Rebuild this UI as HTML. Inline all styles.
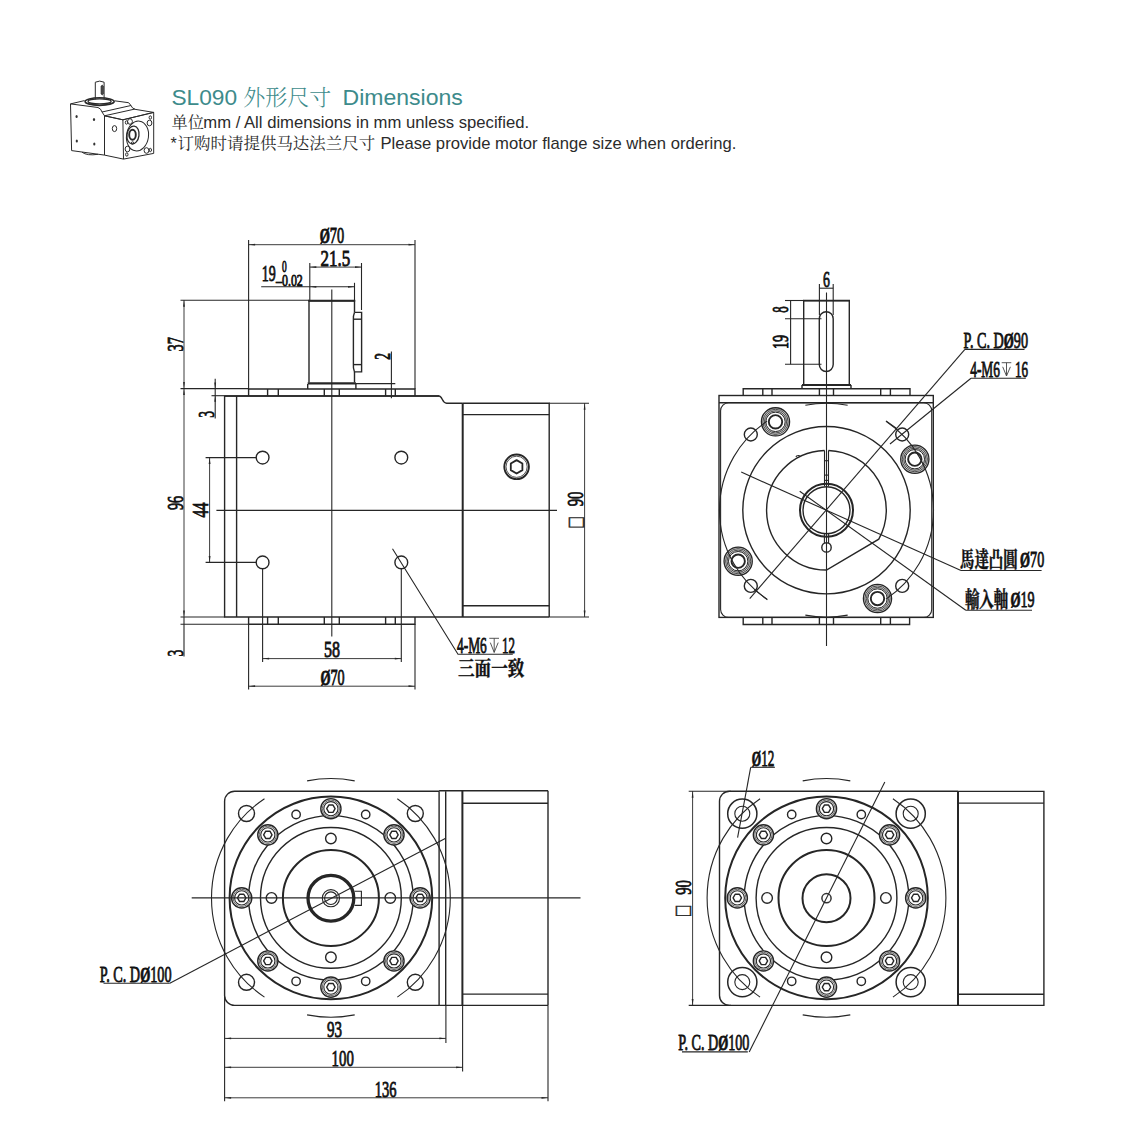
<!DOCTYPE html>
<html lang="zh"><head><meta charset="utf-8"><title>SL090 外形尺寸 Dimensions</title>
<style>
html,body{margin:0;padding:0;background:#fff}
body{width:1141px;height:1129px;position:relative;overflow:hidden;font-family:"Liberation Sans","Noto Serif CJK SC",sans-serif}
svg .h1 text{font-family:"Liberation Sans","Noto Serif CJK SC",sans-serif;fill:#3d8b8b}
svg .h1 text.cj{font-family:"Noto Serif CJK SC","Liberation Serif",serif;font-weight:300}
svg .h2 text{font-family:"Liberation Sans","Noto Serif CJK SC",sans-serif;fill:#2b2b2b}
svg .h2 text.cj{font-family:"Noto Serif CJK SC","Liberation Serif",serif;font-weight:400}
svg{position:absolute;left:0;top:0}
svg text.d{font-family:"Liberation Serif",serif;fill:#111;stroke:#111;stroke-width:0.85px}
svg text.sq{font-family:"Liberation Serif","DejaVu Sans",serif;fill:#222;stroke:#222;stroke-width:0.5px}
svg text.c{font-family:"Noto Serif CJK TC","Noto Serif CJK SC","Liberation Serif",serif;fill:#111;stroke:#111;stroke-width:0.45px}
</style></head>
<body>
<svg width="1141" height="1129" viewBox="0 0 1141 1129">
<g fill="none" stroke="#2a2a2a" stroke-width="1" stroke-linejoin="round">
<path d="M95.3 99.5V82.2Q99.7 80 104.1 82.2V99.5"/>
<path d="M101.2 86Q102.6 84.6 103.2 86V94Q102.4 95.6 101.2 94Z" fill="#555"/>
<ellipse cx="99.6" cy="101.6" rx="14.6" ry="3.8" stroke-width="1.5"/>
<ellipse cx="99.6" cy="101.4" rx="11.6" ry="2.5" stroke-width="1.2"/>
<path d="M85 102.5Q99.6 108 114.2 102.5"/>
<path d="M70.5 103.9L84.5 100.6M114.5 100.8L128.6 102.7L131 105.5Q132 108.5 135 109.2"/>
<path d="M70.5 103.9L71.6 150.6L104.5 155.1V115.8"/>
<path d="M70.5 103.9L98 107.5Q101 108.5 102 112L104.5 115.8"/>
<path d="M102 112L131 105.5"/>
<path d="M104.5 115.8L134.3 109.2L153.7 112.4L122.9 119.8Z"/>
<path d="M104.5 115.8L122.9 119.8L123.5 159.1L104.5 155.1"/>
<path d="M122.9 119.8L153.7 112.4V153.4L123.5 159.1"/>
<path d="M82 152.2Q87 156 98 154.3"/>
<ellipse cx="114.5" cy="128.6" rx="2.2" ry="3"/>
<ellipse cx="137.5" cy="136" rx="11" ry="15" transform="rotate(8 137.5 136)"/>
<ellipse cx="133" cy="135" rx="6" ry="9" transform="rotate(8 133 135)" stroke-width="1.3"/>
<ellipse cx="132.5" cy="134.8" rx="3.3" ry="5" stroke-width="1.9"/>
<circle cx="132.6" cy="143" r="1.2"/>
<ellipse cx="130" cy="121.5" rx="2.4" ry="2.8"/><ellipse cx="149.5" cy="123" rx="2.4" ry="2.8"/>
<ellipse cx="127.5" cy="149" rx="2.4" ry="2.8"/><ellipse cx="146.5" cy="150.5" rx="2.4" ry="2.8"/>
<ellipse cx="126.5" cy="122.5" rx="1.2" ry="1.7"/><ellipse cx="150.3" cy="117.5" rx="1.2" ry="1.7"/>
<ellipse cx="126.8" cy="154.5" rx="1.2" ry="1.7"/><ellipse cx="150.3" cy="150" rx="1.2" ry="1.7"/>
</g>
<g fill="#333"><ellipse cx="76.6" cy="116.5" rx="1.1" ry="1.5"/><ellipse cx="94" cy="119.6" rx="1.1" ry="1.5"/><ellipse cx="76.8" cy="141" rx="1.1" ry="1.5"/><ellipse cx="94.3" cy="144" rx="1.1" ry="1.5"/></g>
<g class="h1">
<text x="171.4" y="104.6" font-size="21.6" textLength="65.7" lengthAdjust="spacingAndGlyphs">SL090</text>
<text class="cj" x="243.2" y="104.8" font-size="22" textLength="88" lengthAdjust="spacingAndGlyphs">外形尺寸</text>
<text x="342.5" y="104.6" font-size="21.6" textLength="120.3" lengthAdjust="spacingAndGlyphs">Dimensions</text>
</g>
<g class="h2">
<text class="cj" x="171.6" y="127.5" font-size="16.2" textLength="32.4" lengthAdjust="spacingAndGlyphs">单位</text>
<text x="203.3" y="127.7" font-size="16.1" textLength="325.8" lengthAdjust="spacingAndGlyphs">mm / All dimensions in mm unless specified.</text>
<text x="170.4" y="149.2" font-size="16.1">*</text>
<text class="cj" x="177.6" y="149" font-size="16.4" textLength="197.6" lengthAdjust="spacingAndGlyphs">订购时请提供马达法兰尺寸</text>
<text x="380.4" y="149.2" font-size="16.1" textLength="356" lengthAdjust="spacingAndGlyphs">Please provide motor flange size when ordering.</text>
</g>
<path d="M439 396H224.6V617H549.2" fill="none" stroke="#262626" stroke-width="1.4" />
<line x1="236.6" y1="396" x2="236.6" y2="617" stroke="#262626" stroke-width="1.4"/>
<path d="M439 396C442.5 396 442 403.2 446.6 403.2H462.7" fill="none" stroke="#262626" stroke-width="1.4" />
<line x1="462.7" y1="403.2" x2="462.7" y2="617" stroke="#262626" stroke-width="2.0"/>
<path d="M462.7 403.2H549.2V617" fill="none" stroke="#262626" stroke-width="1.4" />
<line x1="462.7" y1="414.6" x2="549.2" y2="414.6" stroke="#262626" stroke-width="1.4"/>
<line x1="462.7" y1="605.8" x2="549.2" y2="605.8" stroke="#262626" stroke-width="1.4"/>
<path d="M248.6 396V389H415V396" fill="none" stroke="#262626" stroke-width="1.4" />
<line x1="224.6" y1="396" x2="439" y2="396" stroke="#262626" stroke-width="1.4"/>
<path d="M248.6 617V624.3H415V617" fill="none" stroke="#262626" stroke-width="1.4" />
<line x1="267.6" y1="389" x2="267.6" y2="396" stroke="#262626" stroke-width="1.4"/>
<line x1="278.3" y1="389" x2="278.3" y2="396" stroke="#262626" stroke-width="1.4"/>
<line x1="324.3" y1="389" x2="324.3" y2="396" stroke="#262626" stroke-width="1.4"/>
<line x1="339.3" y1="389" x2="339.3" y2="396" stroke="#262626" stroke-width="1.4"/>
<line x1="385.6" y1="389" x2="385.6" y2="396" stroke="#262626" stroke-width="1.4"/>
<line x1="395.3" y1="389" x2="395.3" y2="396" stroke="#262626" stroke-width="1.4"/>
<line x1="267.6" y1="617" x2="267.6" y2="624.3" stroke="#262626" stroke-width="1.4"/>
<line x1="278.3" y1="617" x2="278.3" y2="624.3" stroke="#262626" stroke-width="1.4"/>
<line x1="324.3" y1="617" x2="324.3" y2="624.3" stroke="#262626" stroke-width="1.4"/>
<line x1="339.3" y1="617" x2="339.3" y2="624.3" stroke="#262626" stroke-width="1.4"/>
<line x1="385.6" y1="617" x2="385.6" y2="624.3" stroke="#262626" stroke-width="1.4"/>
<line x1="395.3" y1="617" x2="395.3" y2="624.3" stroke="#262626" stroke-width="1.4"/>
<path d="M309 382.6V300.7H354.5V312.4M354.5 371.9V382.6" fill="none" stroke="#262626" stroke-width="1.4" />
<line x1="308.3" y1="300.7" x2="355.2" y2="300.7" stroke="#262626" stroke-width="1.9"/>
<line x1="307.7" y1="383.4" x2="355.9" y2="383.4" stroke="#262626" stroke-width="2.2"/>
<path d="M307.7 384V389M355.9 384V389" fill="none" stroke="#262626" stroke-width="1.4" />
<path d="M354.5 312.4H361.6V371.9H354.5" fill="none" stroke="#262626" stroke-width="1.4" />
<path d="M354.5 312.4Q353 316 353.4 319.2V364.6Q353 368 354.5 371.9" fill="none" stroke="#262626" stroke-width="1.4" />
<line x1="353.4" y1="319.2" x2="361.6" y2="319.2" stroke="#262626" stroke-width="1.4"/>
<line x1="353.4" y1="364.6" x2="361.6" y2="364.6" stroke="#262626" stroke-width="1.4"/>
<line x1="331.8" y1="289.4" x2="331.8" y2="636.5" stroke="#262626" stroke-width="1.1"/>
<line x1="216.4" y1="510.4" x2="557" y2="510.4" stroke="#262626" stroke-width="1.1"/>
<circle cx="262.6" cy="457.6" r="6.4" fill="none" stroke="#262626" stroke-width="1.4" />
<circle cx="262.6" cy="562.4" r="6.4" fill="none" stroke="#262626" stroke-width="1.4" />
<circle cx="401.3" cy="457.6" r="6.4" fill="none" stroke="#262626" stroke-width="1.4" />
<circle cx="401.3" cy="562.4" r="6.4" fill="none" stroke="#262626" stroke-width="1.4" />
<circle cx="516.6" cy="466.8" r="12.3" fill="none" stroke="#262626" stroke-width="1.9" />
<circle cx="516.6" cy="466.8" r="10.6" fill="none" stroke="#262626" stroke-width="0.8" />
<polygon points="522.4,470.15 516.6,473.5 510.8,470.15 510.8,463.45 516.6,460.1 522.4,463.45" fill="none" stroke="#262626" stroke-width="1.8" stroke-linejoin="round"/>
<line x1="248.6" y1="240" x2="248.6" y2="389" stroke="#262626" stroke-width="1.1"/>
<line x1="415" y1="240" x2="415" y2="389" stroke="#262626" stroke-width="1.1"/>
<line x1="248.6" y1="244.7" x2="415" y2="244.7" stroke="#262626" stroke-width="0.9"/>
<polygon points="248.6,244.7 255.1,243.8 255.1,245.6" fill="#262626"/>
<polygon points="415,244.7 408.5,245.6 408.5,243.8" fill="#262626"/>
<text class="d" x="319.7" y="243.3" font-size="22.5" font-weight="normal" text-anchor="start" textLength="24.5" lengthAdjust="spacingAndGlyphs"><tspan font-weight="bold" font-size="20.5">Ø</tspan>70</text>
<line x1="309.8" y1="263" x2="309.8" y2="300" stroke="#262626" stroke-width="1.1"/>
<line x1="361.5" y1="263" x2="361.5" y2="310" stroke="#262626" stroke-width="1.1"/>
<line x1="309.8" y1="267.1" x2="361.5" y2="267.1" stroke="#262626" stroke-width="0.9"/>
<polygon points="309.8,267.1 316.3,266.2 316.3,268" fill="#262626"/>
<polygon points="361.5,267.1 355,268 355,266.2" fill="#262626"/>
<text class="d" x="320.5" y="265.6" font-size="22.5" font-weight="normal" text-anchor="start" textLength="29.7" lengthAdjust="spacingAndGlyphs">21.5</text>
<line x1="354.5" y1="282.8" x2="354.5" y2="300" stroke="#262626" stroke-width="1.1"/>
<line x1="261.2" y1="286.8" x2="354.5" y2="286.8" stroke="#262626" stroke-width="1.1"/>
<polygon points="309.8,286.8 316.3,285.9 316.3,287.7" fill="#262626"/>
<polygon points="354.5,286.8 348,287.7 348,285.9" fill="#262626"/>
<text class="d" x="261.8" y="281" font-size="22.5" font-weight="normal" text-anchor="start" textLength="14" lengthAdjust="spacingAndGlyphs">19</text>
<text class="d" x="282.1" y="271.8" font-size="16" font-weight="normal" text-anchor="start" textLength="4.7" lengthAdjust="spacingAndGlyphs">0</text>
<text class="d" x="276" y="285.8" font-size="16" font-weight="normal" text-anchor="start" textLength="26.8" lengthAdjust="spacingAndGlyphs">–0.02</text>
<line x1="180.5" y1="300.2" x2="309" y2="300.2" stroke="#262626" stroke-width="1.1"/>
<line x1="180.5" y1="388.6" x2="248.6" y2="388.6" stroke="#262626" stroke-width="1.1"/>
<line x1="184" y1="300.2" x2="184" y2="388.6" stroke="#262626" stroke-width="0.9"/>
<polygon points="184,300.2 184.9,306.7 183.1,306.7" fill="#262626"/>
<polygon points="184,388.6 183.1,382.1 184.9,382.1" fill="#262626"/>
<text class="d" x="183" y="351.4" font-size="22.5" font-weight="normal" text-anchor="start" textLength="14.3" lengthAdjust="spacingAndGlyphs" transform="rotate(-90 183 351.4)">37</text>
<line x1="215.2" y1="378.7" x2="215.2" y2="418.4" stroke="#262626" stroke-width="1.1"/>
<line x1="211.5" y1="395.7" x2="224.6" y2="395.7" stroke="#262626" stroke-width="1.1"/>
<polygon points="215.2,388.6 214.3,382.6 216.1,382.6" fill="#262626"/>
<polygon points="215.2,395.7 216.1,401.7 214.3,401.7" fill="#262626"/>
<text class="d" x="214" y="417.8" font-size="22.5" font-weight="normal" text-anchor="start" textLength="6.8" lengthAdjust="spacingAndGlyphs" transform="rotate(-90 214 417.8)">3</text>
<line x1="391.4" y1="351.4" x2="391.4" y2="398.2" stroke="#262626" stroke-width="1.1"/>
<line x1="355.3" y1="383.6" x2="395.3" y2="383.6" stroke="#262626" stroke-width="1.1"/>
<text class="d" x="390.4" y="359.7" font-size="22.5" font-weight="normal" text-anchor="start" textLength="6.8" lengthAdjust="spacingAndGlyphs" transform="rotate(-90 390.4 359.7)">2</text>
<line x1="184" y1="388.6" x2="184" y2="617" stroke="#262626" stroke-width="0.9"/>
<polygon points="184,388.6 184.9,395.1 183.1,395.1" fill="#262626"/>
<polygon points="184,617 183.1,610.5 184.9,610.5" fill="#262626"/>
<line x1="184" y1="617" x2="184" y2="656.4" stroke="#262626" stroke-width="1.1"/>
<line x1="180.5" y1="617" x2="224.6" y2="617" stroke="#262626" stroke-width="1.1"/>
<line x1="180.5" y1="624.3" x2="248.6" y2="624.3" stroke="#262626" stroke-width="1.1"/>
<text class="d" x="182.9" y="510" font-size="22.5" font-weight="normal" text-anchor="start" textLength="14.2" lengthAdjust="spacingAndGlyphs" transform="rotate(-90 182.9 510)">96</text>
<text class="d" x="183" y="656.4" font-size="22.5" font-weight="normal" text-anchor="start" textLength="6.8" lengthAdjust="spacingAndGlyphs" transform="rotate(-90 183 656.4)">3</text>
<line x1="205.6" y1="457.6" x2="256" y2="457.6" stroke="#262626" stroke-width="1.1"/>
<line x1="205.6" y1="562.4" x2="256" y2="562.4" stroke="#262626" stroke-width="1.1"/>
<line x1="209.6" y1="457.6" x2="209.6" y2="562.4" stroke="#262626" stroke-width="0.9"/>
<polygon points="209.6,457.6 210.5,464.1 208.7,464.1" fill="#262626"/>
<polygon points="209.6,562.4 208.7,555.9 210.5,555.9" fill="#262626"/>
<text class="d" x="208.3" y="517.5" font-size="22.5" font-weight="normal" text-anchor="start" textLength="14.9" lengthAdjust="spacingAndGlyphs" transform="rotate(-90 208.3 517.5)">44</text>
<line x1="262.6" y1="569" x2="262.6" y2="662" stroke="#262626" stroke-width="1.1"/>
<line x1="401.3" y1="569" x2="401.3" y2="662" stroke="#262626" stroke-width="1.1"/>
<line x1="262.6" y1="658.6" x2="401.3" y2="658.6" stroke="#262626" stroke-width="0.9"/>
<polygon points="262.6,658.6 269.1,657.7 269.1,659.5" fill="#262626"/>
<polygon points="401.3,658.6 394.8,659.5 394.8,657.7" fill="#262626"/>
<text class="d" x="324" y="656.9" font-size="22.5" font-weight="normal" text-anchor="start" textLength="16" lengthAdjust="spacingAndGlyphs">58</text>
<line x1="248.6" y1="624.3" x2="248.6" y2="689.5" stroke="#262626" stroke-width="1.1"/>
<line x1="415" y1="624.3" x2="415" y2="689.5" stroke="#262626" stroke-width="1.1"/>
<line x1="248.6" y1="686.2" x2="415" y2="686.2" stroke="#262626" stroke-width="0.9"/>
<polygon points="248.6,686.2 255.1,685.3 255.1,687.1" fill="#262626"/>
<polygon points="415,686.2 408.5,687.1 408.5,685.3" fill="#262626"/>
<text class="d" x="320.4" y="685" font-size="22.5" font-weight="normal" text-anchor="start" textLength="24.2" lengthAdjust="spacingAndGlyphs"><tspan font-weight="bold" font-size="20.5">Ø</tspan>70</text>
<line x1="549.2" y1="403.2" x2="589" y2="403.2" stroke="#262626" stroke-width="1.1"/>
<line x1="549.2" y1="617" x2="589" y2="617" stroke="#262626" stroke-width="1.1"/>
<line x1="584.6" y1="403.2" x2="584.6" y2="617" stroke="#262626" stroke-width="0.9"/>
<polygon points="584.6,403.2 585.5,409.7 583.7,409.7" fill="#262626"/>
<polygon points="584.6,617 583.7,610.5 585.5,610.5" fill="#262626"/>
<text class="d" x="583.3" y="506.3" font-size="22.5" font-weight="normal" text-anchor="start" textLength="14.8" lengthAdjust="spacingAndGlyphs" transform="rotate(-90 583.3 506.3)">90</text>
<text class="sq" transform="translate(583.6 527.6) rotate(-90) scale(0.66 1)" font-size="25.6">□</text>
<path d="M392.5 548.7L458 654.3H512.8" fill="none" stroke="#262626" stroke-width="1.1" />
<text class="d" x="457" y="652.8" font-size="22.5" font-weight="normal" text-anchor="start" textLength="29.8" lengthAdjust="spacingAndGlyphs">4-M6</text>
<path d="M489.3 638.3H499M494.2 638.3V652.4M490.3 642.6L494.2 652.4L498.2 642.6" fill="none" stroke="#444" stroke-width="0.9" />
<text class="d" x="501.9" y="652.8" font-size="22.5" font-weight="normal" text-anchor="start" textLength="13" lengthAdjust="spacingAndGlyphs">12</text>
<text class="c" x="458" y="676" font-size="20.8" font-weight="bold" text-anchor="start" textLength="66.3" lengthAdjust="spacingAndGlyphs">三面一致</text>
<rect x="719" y="395.5" width="214.3" height="221.9" rx="0" fill="none" stroke="#262626" stroke-width="1.4"/>
<line x1="719" y1="402.7" x2="933.3" y2="402.7" stroke="#262626" stroke-width="1.4"/>
<rect x="720.6" y="402.7" width="211.1" height="214.7" rx="8" fill="none" stroke="#262626" stroke-width="1.1"/>
<path d="M743.2 395.5V388.7H910V395.5" fill="none" stroke="#262626" stroke-width="1.4" />
<path d="M743.2 617.4V624.5H909.6V617.4" fill="none" stroke="#262626" stroke-width="1.4" />
<line x1="762.8" y1="388.7" x2="762.8" y2="395.5" stroke="#262626" stroke-width="1.4"/>
<line x1="762.8" y1="617.4" x2="762.8" y2="624.5" stroke="#262626" stroke-width="1.4"/>
<line x1="772" y1="388.7" x2="772" y2="395.5" stroke="#262626" stroke-width="1.4"/>
<line x1="772" y1="617.4" x2="772" y2="624.5" stroke="#262626" stroke-width="1.4"/>
<line x1="819.4" y1="388.7" x2="819.4" y2="395.5" stroke="#262626" stroke-width="1.4"/>
<line x1="819.4" y1="617.4" x2="819.4" y2="624.5" stroke="#262626" stroke-width="1.4"/>
<line x1="833.5" y1="388.7" x2="833.5" y2="395.5" stroke="#262626" stroke-width="1.4"/>
<line x1="833.5" y1="617.4" x2="833.5" y2="624.5" stroke="#262626" stroke-width="1.4"/>
<line x1="880.7" y1="388.7" x2="880.7" y2="395.5" stroke="#262626" stroke-width="1.4"/>
<line x1="880.7" y1="617.4" x2="880.7" y2="624.5" stroke="#262626" stroke-width="1.4"/>
<line x1="890.4" y1="388.7" x2="890.4" y2="395.5" stroke="#262626" stroke-width="1.4"/>
<line x1="890.4" y1="617.4" x2="890.4" y2="624.5" stroke="#262626" stroke-width="1.4"/>
<path d="M803.7 384V300.6H849.3V384" fill="none" stroke="#262626" stroke-width="1.4" />
<line x1="803" y1="300.6" x2="850" y2="300.6" stroke="#262626" stroke-width="1.9"/>
<line x1="802" y1="385" x2="851" y2="385" stroke="#262626" stroke-width="2.2"/>
<path d="M802 385V389M851 385V389" fill="none" stroke="#262626" stroke-width="1.4" />
<rect x="819.3" y="311.8" width="13.9" height="59.7" rx="6.9" fill="none" stroke="#262626" stroke-width="1.4"/>
<line x1="826.5" y1="292.4" x2="826.5" y2="646" stroke="#262626" stroke-width="1.1"/>
<circle cx="826.5" cy="510.2" r="83.7" fill="none" stroke="#262626" stroke-width="1.4" />
<path d="M828.5 450.43A59.8 59.8 0 0 1 878.8 539.19L826.5 570A59.8 59.8 0 0 1 824.5 450.43" fill="none" stroke="#262626" stroke-width="1.4" />
<line x1="824.5" y1="450.43" x2="824.5" y2="486.2" stroke="#262626" stroke-width="1.1"/>
<line x1="828.5" y1="450.43" x2="828.5" y2="486.2" stroke="#262626" stroke-width="1.1"/>
<line x1="824.5" y1="460.7" x2="828.5" y2="460.7" stroke="#262626" stroke-width="1.1"/>
<line x1="824.5" y1="475.1" x2="828.5" y2="475.1" stroke="#262626" stroke-width="1.1"/>
<line x1="824.5" y1="480.4" x2="828.5" y2="480.4" stroke="#262626" stroke-width="1.1"/>
<path d="M795.9 457.2q0.3 -2 3.8 -1.6" fill="none" stroke="#262626" stroke-width="1.1" />
<circle cx="826.5" cy="510.2" r="26.5" fill="none" stroke="#262626" stroke-width="2.0" />
<circle cx="826.5" cy="510.2" r="23.5" fill="none" stroke="#262626" stroke-width="1.4" />
<line x1="824.4" y1="533.7" x2="824.4" y2="543" stroke="#262626" stroke-width="1.1"/>
<line x1="828.6" y1="533.7" x2="828.6" y2="543" stroke="#262626" stroke-width="1.1"/>
<circle cx="826.5" cy="547.4" r="4.7" fill="none" stroke="#262626" stroke-width="1.4" />
<circle cx="775.5" cy="421.87" r="12" fill="#fff" stroke="#d8d8d8" stroke-width="5" />
<circle cx="775.5" cy="421.87" r="14.1" fill="none" stroke="#262626" stroke-width="1.3" />
<circle cx="775.5" cy="421.87" r="12.6" fill="none" stroke="#262626" stroke-width="0.8" />
<circle cx="775.5" cy="421.87" r="11.1" fill="none" stroke="#262626" stroke-width="0.8" />
<circle cx="775.5" cy="421.87" r="9.7" fill="none" stroke="#262626" stroke-width="1.0" />
<circle cx="775.5" cy="421.87" r="6.7" fill="none" stroke="#262626" stroke-width="1.9" />
<circle cx="914.83" cy="459.2" r="12" fill="#fff" stroke="#d8d8d8" stroke-width="5" />
<circle cx="914.83" cy="459.2" r="14.1" fill="none" stroke="#262626" stroke-width="1.3" />
<circle cx="914.83" cy="459.2" r="12.6" fill="none" stroke="#262626" stroke-width="0.8" />
<circle cx="914.83" cy="459.2" r="11.1" fill="none" stroke="#262626" stroke-width="0.8" />
<circle cx="914.83" cy="459.2" r="9.7" fill="none" stroke="#262626" stroke-width="1.0" />
<circle cx="914.83" cy="459.2" r="6.7" fill="none" stroke="#262626" stroke-width="1.9" />
<circle cx="877.5" cy="598.53" r="12" fill="#fff" stroke="#d8d8d8" stroke-width="5" />
<circle cx="877.5" cy="598.53" r="14.1" fill="none" stroke="#262626" stroke-width="1.3" />
<circle cx="877.5" cy="598.53" r="12.6" fill="none" stroke="#262626" stroke-width="0.8" />
<circle cx="877.5" cy="598.53" r="11.1" fill="none" stroke="#262626" stroke-width="0.8" />
<circle cx="877.5" cy="598.53" r="9.7" fill="none" stroke="#262626" stroke-width="1.0" />
<circle cx="877.5" cy="598.53" r="6.7" fill="none" stroke="#262626" stroke-width="1.9" />
<circle cx="738.17" cy="561.2" r="12" fill="#fff" stroke="#d8d8d8" stroke-width="5" />
<circle cx="738.17" cy="561.2" r="14.1" fill="none" stroke="#262626" stroke-width="1.3" />
<circle cx="738.17" cy="561.2" r="12.6" fill="none" stroke="#262626" stroke-width="0.8" />
<circle cx="738.17" cy="561.2" r="11.1" fill="none" stroke="#262626" stroke-width="0.8" />
<circle cx="738.17" cy="561.2" r="9.7" fill="none" stroke="#262626" stroke-width="1.0" />
<circle cx="738.17" cy="561.2" r="6.7" fill="none" stroke="#262626" stroke-width="1.9" />
<path d="M805.35 405.31A107 107 0 0 1 847.65 405.31" fill="none" stroke="#262626" stroke-width="1.1" />
<path d="M847.65 615.09A107 107 0 0 1 805.35 615.09" fill="none" stroke="#262626" stroke-width="1.1" />
<path d="M886.02 421.28A107 107 0 0 1 886.02 599.12" fill="none" stroke="#262626" stroke-width="1.1" />
<path d="M766.98 599.12A107 107 0 0 1 766.98 421.28" fill="none" stroke="#262626" stroke-width="1.1" />
<circle cx="750.8" cy="434.5" r="6.5" fill="none" stroke="#262626" stroke-width="1.4" />
<circle cx="750.8" cy="585.9" r="6.5" fill="none" stroke="#262626" stroke-width="1.4" />
<circle cx="902.2" cy="434.5" r="6.5" fill="none" stroke="#262626" stroke-width="1.4" />
<circle cx="902.2" cy="585.9" r="6.5" fill="none" stroke="#262626" stroke-width="1.4" />
<line x1="964.9" y1="349.4" x2="749.7" y2="598.7" stroke="#262626" stroke-width="1.1"/>
<line x1="964.9" y1="349.4" x2="1024.5" y2="349.4" stroke="#262626" stroke-width="1.1"/>
<line x1="886" y1="420.9" x2="897" y2="428.8" stroke="#262626" stroke-width="1.1"/>
<line x1="754.3" y1="589.6" x2="767.4" y2="599.7" stroke="#262626" stroke-width="1.1"/>
<text class="d" x="963.6" y="347.6" font-size="22.5" font-weight="normal" text-anchor="start" textLength="64.4" lengthAdjust="spacingAndGlyphs">P.<tspan dx="5.6">C.</tspan><tspan dx="5.6">D<tspan font-weight="bold" font-size="20.5">Ø</tspan>90</tspan></text>
<line x1="971" y1="378.3" x2="890" y2="444" stroke="#262626" stroke-width="1.1"/>
<line x1="971" y1="378.3" x2="1025.8" y2="378.3" stroke="#262626" stroke-width="1.1"/>
<text class="d" x="970.2" y="376.5" font-size="22.5" font-weight="normal" text-anchor="start" textLength="29.8" lengthAdjust="spacingAndGlyphs">4-M6</text>
<path d="M1001.7 362.7H1011.3M1006.5 362.7V376M1002.7 366.8L1006.5 376L1010.4 366.8" fill="none" stroke="#444" stroke-width="0.9" />
<text class="d" x="1014.9" y="376.5" font-size="22.5" font-weight="normal" text-anchor="start" textLength="13.1" lengthAdjust="spacingAndGlyphs">16</text>
<line x1="741.2" y1="472.1" x2="961" y2="570.5" stroke="#262626" stroke-width="1.1"/>
<line x1="961" y1="570.5" x2="1041.6" y2="570.5" stroke="#262626" stroke-width="1.1"/>
<text class="c" x="960.1" y="567.2" font-size="21.2" font-weight="bold" text-anchor="start" textLength="57.4" lengthAdjust="spacingAndGlyphs">馬達凸圓</text>
<text class="d" x="1020.1" y="566.7" font-size="22.5" font-weight="normal" text-anchor="start" textLength="24.1" lengthAdjust="spacingAndGlyphs"><tspan font-weight="bold" font-size="20.5">Ø</tspan>70</text>
<line x1="799.7" y1="491.2" x2="965.8" y2="610.3" stroke="#262626" stroke-width="1.1"/>
<line x1="965.8" y1="610.3" x2="1032" y2="610.3" stroke="#262626" stroke-width="1.1"/>
<text class="c" x="964.9" y="607.1" font-size="21.2" font-weight="bold" text-anchor="start" textLength="43.4" lengthAdjust="spacingAndGlyphs">輸入軸</text>
<text class="d" x="1010.5" y="607" font-size="22.5" font-weight="normal" text-anchor="start" textLength="24.1" lengthAdjust="spacingAndGlyphs"><tspan font-weight="bold" font-size="20.5">Ø</tspan>19</text>
<line x1="819.4" y1="284" x2="819.4" y2="315" stroke="#262626" stroke-width="1.1"/>
<line x1="833.2" y1="284" x2="833.2" y2="315" stroke="#262626" stroke-width="1.1"/>
<line x1="819.4" y1="288.2" x2="833.2" y2="288.2" stroke="#262626" stroke-width="1.1"/>
<text class="d" x="822.9" y="286.8" font-size="22.5" font-weight="normal" text-anchor="start" textLength="6.9" lengthAdjust="spacingAndGlyphs">6</text>
<line x1="785" y1="300.5" x2="804.1" y2="300.5" stroke="#262626" stroke-width="1.1"/>
<line x1="785" y1="318.8" x2="821.5" y2="318.8" stroke="#262626" stroke-width="1.1"/>
<line x1="785" y1="364.2" x2="821.5" y2="364.2" stroke="#262626" stroke-width="1.1"/>
<line x1="790.6" y1="300.5" x2="790.6" y2="364.2" stroke="#262626" stroke-width="1.1"/>
<text class="d" x="787.8" y="312.8" font-size="22.5" font-weight="normal" text-anchor="start" textLength="6.4" lengthAdjust="spacingAndGlyphs" transform="rotate(-90 787.8 312.8)">8</text>
<text class="d" x="788.2" y="349" font-size="22.5" font-weight="normal" text-anchor="start" textLength="13.9" lengthAdjust="spacingAndGlyphs" transform="rotate(-90 788.2 349)">19</text>
<path d="M439.1 791.2H234.6A10 10 0 0 0 224.6 801.2V995.4A10 10 0 0 0 234.6 1005.4H439.1" fill="none" stroke="#262626" stroke-width="1.4" />
<line x1="439.1" y1="791.2" x2="439.1" y2="1005.4" stroke="#262626" stroke-width="1.4"/>
<line x1="445.7" y1="791.2" x2="445.7" y2="1005.4" stroke="#262626" stroke-width="1.4"/>
<line x1="439.1" y1="790.8" x2="548" y2="790.8" stroke="#262626" stroke-width="1.4"/>
<line x1="439.1" y1="1005.4" x2="548" y2="1005.4" stroke="#262626" stroke-width="1.4"/>
<line x1="462.4" y1="790.8" x2="462.4" y2="1005.4" stroke="#262626" stroke-width="2.0"/>
<line x1="548" y1="790.8" x2="548" y2="1005.4" stroke="#262626" stroke-width="1.4"/>
<line x1="462.4" y1="803.3" x2="548" y2="803.3" stroke="#262626" stroke-width="1.4"/>
<line x1="462.4" y1="994.1" x2="548" y2="994.1" stroke="#262626" stroke-width="1.4"/>
<circle cx="330.9" cy="897.9" r="101.3" fill="none" stroke="#262626" stroke-width="2.0" />
<circle cx="330.9" cy="897.9" r="82.3" fill="none" stroke="#262626" stroke-width="1.4" />
<circle cx="330.9" cy="897.9" r="70.4" fill="none" stroke="#262626" stroke-width="1.4" />
<circle cx="330.9" cy="897.9" r="48" fill="none" stroke="#262626" stroke-width="2.0" />
<circle cx="420.1" cy="897.9" r="10.1" fill="#fff" stroke="#262626" stroke-width="1.4" />
<circle cx="420.1" cy="897.9" r="8.6" fill="none" stroke="#262626" stroke-width="0.7" />
<circle cx="420.1" cy="897.9" r="7.1" fill="none" stroke="#262626" stroke-width="1.1" />
<polygon points="424.3,897.9 422.2,901.54 418,901.54 415.9,897.9 418,894.26 422.2,894.26" fill="none" stroke="#262626" stroke-width="1.4" stroke-linejoin="round"/>
<circle cx="393.97" cy="960.97" r="10.1" fill="#fff" stroke="#262626" stroke-width="1.4" />
<circle cx="393.97" cy="960.97" r="8.6" fill="none" stroke="#262626" stroke-width="0.7" />
<circle cx="393.97" cy="960.97" r="7.1" fill="none" stroke="#262626" stroke-width="1.1" />
<polygon points="398.17,960.97 396.07,964.61 391.87,964.61 389.77,960.97 391.87,957.34 396.07,957.34" fill="none" stroke="#262626" stroke-width="1.4" stroke-linejoin="round"/>
<circle cx="330.9" cy="987.1" r="10.1" fill="#fff" stroke="#262626" stroke-width="1.4" />
<circle cx="330.9" cy="987.1" r="8.6" fill="none" stroke="#262626" stroke-width="0.7" />
<circle cx="330.9" cy="987.1" r="7.1" fill="none" stroke="#262626" stroke-width="1.1" />
<polygon points="335.1,987.1 333,990.74 328.8,990.74 326.7,987.1 328.8,983.46 333,983.46" fill="none" stroke="#262626" stroke-width="1.4" stroke-linejoin="round"/>
<circle cx="267.83" cy="960.97" r="10.1" fill="#fff" stroke="#262626" stroke-width="1.4" />
<circle cx="267.83" cy="960.97" r="8.6" fill="none" stroke="#262626" stroke-width="0.7" />
<circle cx="267.83" cy="960.97" r="7.1" fill="none" stroke="#262626" stroke-width="1.1" />
<polygon points="272.03,960.97 269.93,964.61 265.73,964.61 263.63,960.97 265.73,957.34 269.93,957.34" fill="none" stroke="#262626" stroke-width="1.4" stroke-linejoin="round"/>
<circle cx="241.7" cy="897.9" r="10.1" fill="#fff" stroke="#262626" stroke-width="1.4" />
<circle cx="241.7" cy="897.9" r="8.6" fill="none" stroke="#262626" stroke-width="0.7" />
<circle cx="241.7" cy="897.9" r="7.1" fill="none" stroke="#262626" stroke-width="1.1" />
<polygon points="245.9,897.9 243.8,901.54 239.6,901.54 237.5,897.9 239.6,894.26 243.8,894.26" fill="none" stroke="#262626" stroke-width="1.4" stroke-linejoin="round"/>
<circle cx="267.83" cy="834.83" r="10.1" fill="#fff" stroke="#262626" stroke-width="1.4" />
<circle cx="267.83" cy="834.83" r="8.6" fill="none" stroke="#262626" stroke-width="0.7" />
<circle cx="267.83" cy="834.83" r="7.1" fill="none" stroke="#262626" stroke-width="1.1" />
<polygon points="272.03,834.83 269.93,838.46 265.73,838.46 263.63,834.83 265.73,831.19 269.93,831.19" fill="none" stroke="#262626" stroke-width="1.4" stroke-linejoin="round"/>
<circle cx="330.9" cy="808.7" r="10.1" fill="#fff" stroke="#262626" stroke-width="1.4" />
<circle cx="330.9" cy="808.7" r="8.6" fill="none" stroke="#262626" stroke-width="0.7" />
<circle cx="330.9" cy="808.7" r="7.1" fill="none" stroke="#262626" stroke-width="1.1" />
<polygon points="335.1,808.7 333,812.34 328.8,812.34 326.7,808.7 328.8,805.06 333,805.06" fill="none" stroke="#262626" stroke-width="1.4" stroke-linejoin="round"/>
<circle cx="393.97" cy="834.83" r="10.1" fill="#fff" stroke="#262626" stroke-width="1.4" />
<circle cx="393.97" cy="834.83" r="8.6" fill="none" stroke="#262626" stroke-width="0.7" />
<circle cx="393.97" cy="834.83" r="7.1" fill="none" stroke="#262626" stroke-width="1.1" />
<polygon points="398.17,834.83 396.07,838.46 391.87,838.46 389.77,834.83 391.87,831.19 396.07,831.19" fill="none" stroke="#262626" stroke-width="1.4" stroke-linejoin="round"/>
<circle cx="390.3" cy="897.9" r="5.3" fill="none" stroke="#262626" stroke-width="1.4" />
<circle cx="330.9" cy="957.3" r="5.3" fill="none" stroke="#262626" stroke-width="1.4" />
<circle cx="271.5" cy="897.9" r="5.3" fill="none" stroke="#262626" stroke-width="1.4" />
<circle cx="330.9" cy="838.5" r="5.3" fill="none" stroke="#262626" stroke-width="1.4" />
<circle cx="296.1" cy="814.5" r="4.2" fill="none" stroke="#262626" stroke-width="1.4" />
<circle cx="296.1" cy="981.3" r="4.2" fill="none" stroke="#262626" stroke-width="1.4" />
<circle cx="365.7" cy="814.5" r="4.2" fill="none" stroke="#262626" stroke-width="1.4" />
<circle cx="365.7" cy="981.3" r="4.2" fill="none" stroke="#262626" stroke-width="1.4" />
<path d="M307.1 780.9A119.4 119.4 0 0 1 354.7 780.9" fill="none" stroke="#262626" stroke-width="1.1" />
<path d="M354.7 1014.9A119.4 119.4 0 0 1 307.1 1014.9" fill="none" stroke="#262626" stroke-width="1.1" />
<path d="M397.32 798.68A119.4 119.4 0 0 1 397.32 997.12" fill="none" stroke="#262626" stroke-width="1.1" />
<path d="M264.48 997.12A119.4 119.4 0 0 1 264.48 798.68" fill="none" stroke="#262626" stroke-width="1.1" />
<circle cx="246.5" cy="813.5" r="8" fill="none" stroke="#262626" stroke-width="1.4" />
<circle cx="246.5" cy="982.3" r="8" fill="none" stroke="#262626" stroke-width="1.4" />
<circle cx="415.3" cy="813.5" r="8" fill="none" stroke="#262626" stroke-width="1.4" />
<circle cx="415.3" cy="982.3" r="8" fill="none" stroke="#262626" stroke-width="1.4" />
<circle cx="330.9" cy="898.2" r="22.9" fill="none" stroke="#262626" stroke-width="3.3" />
<circle cx="330.9" cy="898.2" r="8.6" fill="none" stroke="#262626" stroke-width="1.1" />
<circle cx="330.9" cy="898.2" r="6.3" fill="none" stroke="#262626" stroke-width="1.1" />
<path d="M354.5 891.3H361.4V905.4H354.5" fill="none" stroke="#262626" stroke-width="1.1" />
<line x1="191.7" y1="897.9" x2="580.5" y2="897.9" stroke="#262626" stroke-width="1.1"/>
<line x1="445.7" y1="838.3" x2="169.8" y2="983.2" stroke="#262626" stroke-width="1.1"/>
<line x1="103.5" y1="983.2" x2="169.8" y2="983.2" stroke="#262626" stroke-width="1.1"/>
<text class="d" x="99.8" y="981.7" font-size="22.5" font-weight="normal" text-anchor="start" textLength="71.8" lengthAdjust="spacingAndGlyphs">P.<tspan dx="5.6">C.</tspan><tspan dx="5.6">D<tspan font-weight="bold" font-size="20.5">Ø</tspan>100</tspan></text>
<line x1="224.6" y1="997" x2="224.6" y2="1101.3" stroke="#262626" stroke-width="1.1"/>
<line x1="445.9" y1="1005.4" x2="445.9" y2="1043" stroke="#262626" stroke-width="1.1"/>
<line x1="462.6" y1="1005.4" x2="462.6" y2="1071.5" stroke="#262626" stroke-width="1.1"/>
<line x1="548" y1="1005.4" x2="548" y2="1101.3" stroke="#262626" stroke-width="1.1"/>
<line x1="224.6" y1="1038.4" x2="445.9" y2="1038.4" stroke="#262626" stroke-width="0.9"/>
<polygon points="224.6,1038.4 231.1,1037.5 231.1,1039.3" fill="#262626"/>
<polygon points="445.9,1038.4 439.4,1039.3 439.4,1037.5" fill="#262626"/>
<line x1="224.6" y1="1067.3" x2="462.6" y2="1067.3" stroke="#262626" stroke-width="0.9"/>
<polygon points="224.6,1067.3 231.1,1066.4 231.1,1068.2" fill="#262626"/>
<polygon points="462.6,1067.3 456.1,1068.2 456.1,1066.4" fill="#262626"/>
<line x1="224.6" y1="1097.8" x2="548" y2="1097.8" stroke="#262626" stroke-width="0.9"/>
<polygon points="224.6,1097.8 231.1,1096.9 231.1,1098.7" fill="#262626"/>
<polygon points="548,1097.8 541.5,1098.7 541.5,1096.9" fill="#262626"/>
<text class="d" x="327.1" y="1037" font-size="22.5" font-weight="normal" text-anchor="start" textLength="15" lengthAdjust="spacingAndGlyphs">93</text>
<text class="d" x="331.6" y="1066.3" font-size="22.5" font-weight="normal" text-anchor="start" textLength="22.2" lengthAdjust="spacingAndGlyphs">100</text>
<text class="d" x="374.7" y="1096.5" font-size="22.5" font-weight="normal" text-anchor="start" textLength="21.8" lengthAdjust="spacingAndGlyphs">136</text>
<path d="M958 791.2H729.5A10 10 0 0 0 719.5 801.2V995.4A10 10 0 0 0 729.5 1005.4H958" fill="none" stroke="#262626" stroke-width="1.4" />
<line x1="958" y1="791.4" x2="958" y2="1005.4" stroke="#262626" stroke-width="2.0"/>
<path d="M958 791.4H1043.9V1005.4H958" fill="none" stroke="#262626" stroke-width="1.4" />
<line x1="958" y1="803.1" x2="1043.9" y2="803.1" stroke="#262626" stroke-width="1.4"/>
<line x1="958" y1="994.2" x2="1043.9" y2="994.2" stroke="#262626" stroke-width="1.4"/>
<circle cx="826.5" cy="897.9" r="101.3" fill="none" stroke="#262626" stroke-width="2.0" />
<circle cx="826.5" cy="897.9" r="82.3" fill="none" stroke="#262626" stroke-width="1.4" />
<circle cx="826.5" cy="897.9" r="70.4" fill="none" stroke="#262626" stroke-width="1.4" />
<circle cx="826.5" cy="897.9" r="48" fill="none" stroke="#262626" stroke-width="2.0" />
<circle cx="915.7" cy="897.9" r="10.1" fill="#fff" stroke="#262626" stroke-width="1.4" />
<circle cx="915.7" cy="897.9" r="8.6" fill="none" stroke="#262626" stroke-width="0.7" />
<circle cx="915.7" cy="897.9" r="7.1" fill="none" stroke="#262626" stroke-width="1.1" />
<polygon points="919.9,897.9 917.8,901.54 913.6,901.54 911.5,897.9 913.6,894.26 917.8,894.26" fill="none" stroke="#262626" stroke-width="1.4" stroke-linejoin="round"/>
<circle cx="889.57" cy="960.97" r="10.1" fill="#fff" stroke="#262626" stroke-width="1.4" />
<circle cx="889.57" cy="960.97" r="8.6" fill="none" stroke="#262626" stroke-width="0.7" />
<circle cx="889.57" cy="960.97" r="7.1" fill="none" stroke="#262626" stroke-width="1.1" />
<polygon points="893.77,960.97 891.67,964.61 887.47,964.61 885.37,960.97 887.47,957.34 891.67,957.34" fill="none" stroke="#262626" stroke-width="1.4" stroke-linejoin="round"/>
<circle cx="826.5" cy="987.1" r="10.1" fill="#fff" stroke="#262626" stroke-width="1.4" />
<circle cx="826.5" cy="987.1" r="8.6" fill="none" stroke="#262626" stroke-width="0.7" />
<circle cx="826.5" cy="987.1" r="7.1" fill="none" stroke="#262626" stroke-width="1.1" />
<polygon points="830.7,987.1 828.6,990.74 824.4,990.74 822.3,987.1 824.4,983.46 828.6,983.46" fill="none" stroke="#262626" stroke-width="1.4" stroke-linejoin="round"/>
<circle cx="763.43" cy="960.97" r="10.1" fill="#fff" stroke="#262626" stroke-width="1.4" />
<circle cx="763.43" cy="960.97" r="8.6" fill="none" stroke="#262626" stroke-width="0.7" />
<circle cx="763.43" cy="960.97" r="7.1" fill="none" stroke="#262626" stroke-width="1.1" />
<polygon points="767.63,960.97 765.53,964.61 761.33,964.61 759.23,960.97 761.33,957.34 765.53,957.34" fill="none" stroke="#262626" stroke-width="1.4" stroke-linejoin="round"/>
<circle cx="737.3" cy="897.9" r="10.1" fill="#fff" stroke="#262626" stroke-width="1.4" />
<circle cx="737.3" cy="897.9" r="8.6" fill="none" stroke="#262626" stroke-width="0.7" />
<circle cx="737.3" cy="897.9" r="7.1" fill="none" stroke="#262626" stroke-width="1.1" />
<polygon points="741.5,897.9 739.4,901.54 735.2,901.54 733.1,897.9 735.2,894.26 739.4,894.26" fill="none" stroke="#262626" stroke-width="1.4" stroke-linejoin="round"/>
<circle cx="763.43" cy="834.83" r="10.1" fill="#fff" stroke="#262626" stroke-width="1.4" />
<circle cx="763.43" cy="834.83" r="8.6" fill="none" stroke="#262626" stroke-width="0.7" />
<circle cx="763.43" cy="834.83" r="7.1" fill="none" stroke="#262626" stroke-width="1.1" />
<polygon points="767.63,834.83 765.53,838.46 761.33,838.46 759.23,834.83 761.33,831.19 765.53,831.19" fill="none" stroke="#262626" stroke-width="1.4" stroke-linejoin="round"/>
<circle cx="826.5" cy="808.7" r="10.1" fill="#fff" stroke="#262626" stroke-width="1.4" />
<circle cx="826.5" cy="808.7" r="8.6" fill="none" stroke="#262626" stroke-width="0.7" />
<circle cx="826.5" cy="808.7" r="7.1" fill="none" stroke="#262626" stroke-width="1.1" />
<polygon points="830.7,808.7 828.6,812.34 824.4,812.34 822.3,808.7 824.4,805.06 828.6,805.06" fill="none" stroke="#262626" stroke-width="1.4" stroke-linejoin="round"/>
<circle cx="889.57" cy="834.83" r="10.1" fill="#fff" stroke="#262626" stroke-width="1.4" />
<circle cx="889.57" cy="834.83" r="8.6" fill="none" stroke="#262626" stroke-width="0.7" />
<circle cx="889.57" cy="834.83" r="7.1" fill="none" stroke="#262626" stroke-width="1.1" />
<polygon points="893.77,834.83 891.67,838.46 887.47,838.46 885.37,834.83 887.47,831.19 891.67,831.19" fill="none" stroke="#262626" stroke-width="1.4" stroke-linejoin="round"/>
<circle cx="885.9" cy="897.9" r="5.3" fill="none" stroke="#262626" stroke-width="1.4" />
<circle cx="826.5" cy="957.3" r="5.3" fill="none" stroke="#262626" stroke-width="1.4" />
<circle cx="767.1" cy="897.9" r="5.3" fill="none" stroke="#262626" stroke-width="1.4" />
<circle cx="826.5" cy="838.5" r="5.3" fill="none" stroke="#262626" stroke-width="1.4" />
<circle cx="791.7" cy="814.5" r="4.2" fill="none" stroke="#262626" stroke-width="1.4" />
<circle cx="791.7" cy="981.3" r="4.2" fill="none" stroke="#262626" stroke-width="1.4" />
<circle cx="861.3" cy="814.5" r="4.2" fill="none" stroke="#262626" stroke-width="1.4" />
<circle cx="861.3" cy="981.3" r="4.2" fill="none" stroke="#262626" stroke-width="1.4" />
<path d="M802.7 780.9A119.4 119.4 0 0 1 850.3 780.9" fill="none" stroke="#262626" stroke-width="1.1" />
<path d="M850.3 1014.9A119.4 119.4 0 0 1 802.7 1014.9" fill="none" stroke="#262626" stroke-width="1.1" />
<path d="M892.92 798.68A119.4 119.4 0 0 1 892.92 997.12" fill="none" stroke="#262626" stroke-width="1.1" />
<path d="M760.08 997.12A119.4 119.4 0 0 1 760.08 798.68" fill="none" stroke="#262626" stroke-width="1.1" />
<circle cx="742.3" cy="813.7" r="14.6" fill="none" stroke="#262626" stroke-width="1.5" />
<circle cx="742.3" cy="813.7" r="7.5" fill="none" stroke="#262626" stroke-width="1.1" />
<circle cx="742.3" cy="982.1" r="14.6" fill="none" stroke="#262626" stroke-width="1.5" />
<circle cx="742.3" cy="982.1" r="7.5" fill="none" stroke="#262626" stroke-width="1.1" />
<circle cx="910.7" cy="813.7" r="14.6" fill="none" stroke="#262626" stroke-width="1.5" />
<circle cx="910.7" cy="813.7" r="7.5" fill="none" stroke="#262626" stroke-width="1.1" />
<circle cx="910.7" cy="982.1" r="14.6" fill="none" stroke="#262626" stroke-width="1.5" />
<circle cx="910.7" cy="982.1" r="7.5" fill="none" stroke="#262626" stroke-width="1.1" />
<circle cx="826.5" cy="898.2" r="24" fill="none" stroke="#262626" stroke-width="2.0" />
<circle cx="826.5" cy="898.2" r="4.6" fill="none" stroke="#333" stroke-width="1.5" />
<line x1="688.7" y1="791.2" x2="731" y2="791.2" stroke="#262626" stroke-width="1.1"/>
<line x1="688.7" y1="1005.4" x2="731" y2="1005.4" stroke="#262626" stroke-width="1.1"/>
<line x1="692.6" y1="791.2" x2="692.6" y2="1005.4" stroke="#262626" stroke-width="0.9"/>
<polygon points="692.6,791.2 693.5,797.7 691.7,797.7" fill="#262626"/>
<polygon points="692.6,1005.4 691.7,998.9 693.5,998.9" fill="#262626"/>
<text class="d" x="691.2" y="894.8" font-size="22.5" font-weight="normal" text-anchor="start" textLength="14.8" lengthAdjust="spacingAndGlyphs" transform="rotate(-90 691.2 894.8)">90</text>
<text class="sq" transform="translate(691.3 915.9) rotate(-90) scale(0.66 1)" font-size="25.6">□</text>
<line x1="750.7" y1="767.3" x2="737.6" y2="837.6" stroke="#262626" stroke-width="1.1"/>
<line x1="750.7" y1="767.3" x2="774.9" y2="767.3" stroke="#262626" stroke-width="1.1"/>
<text class="d" x="751.8" y="765.5" font-size="22.5" font-weight="normal" text-anchor="start" textLength="22.6" lengthAdjust="spacingAndGlyphs"><tspan font-weight="bold" font-size="20.5">Ø</tspan>12</text>
<line x1="749.2" y1="1051.9" x2="884.8" y2="782.1" stroke="#262626" stroke-width="1.1"/>
<line x1="682" y1="1051.9" x2="747.8" y2="1051.9" stroke="#262626" stroke-width="1.1"/>
<text class="d" x="678.2" y="1050.3" font-size="22.5" font-weight="normal" text-anchor="start" textLength="71.2" lengthAdjust="spacingAndGlyphs">P.<tspan dx="5.6">C.</tspan><tspan dx="5.6">D<tspan font-weight="bold" font-size="20.5">Ø</tspan>100</tspan></text>
</svg>
</body></html>
